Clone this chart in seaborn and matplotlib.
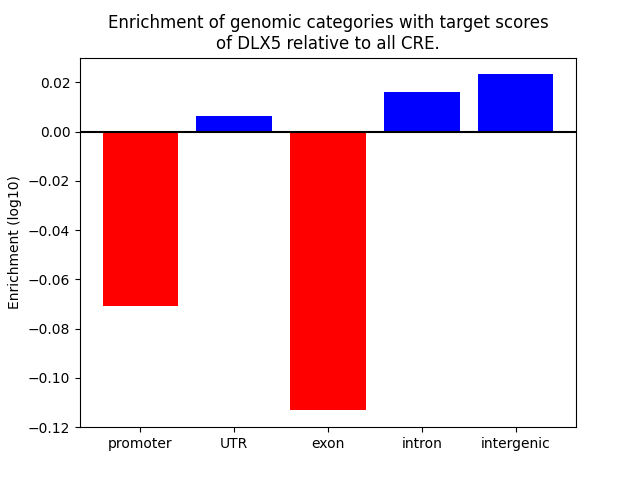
import matplotlib
matplotlib.use("Agg")
import matplotlib.pyplot as plt
import seaborn as sns

# categories and enrichment values
categories = ["promoter", "UTR", "exon", "intron", "intergenic"]
enrichment = [-0.0707, 0.0064, -0.1131, 0.0161, 0.0235]
bar_colors = ["red" if v < 0 else "blue" for v in enrichment]

fig, ax = plt.subplots(figsize=(6.4, 4.8), dpi=100)
sns.barplot(x=categories, y=enrichment, hue=categories, palette=bar_colors,
            saturation=1, width=0.8, legend=False, ax=ax)
ax.axhline(0, color="black", linewidth=1.5)
ax.set_ylim(-0.12, 0.03)
# matplotlib's default 5% margin around the bars
ax.set_xlim(-0.64, 4.64)
ax.set_ylabel("Enrichment (log10)")
ax.set_title("Enrichment of genomic categories with target scores\nof DLX5 relative to all CRE.")

fig.savefig("out.png")
